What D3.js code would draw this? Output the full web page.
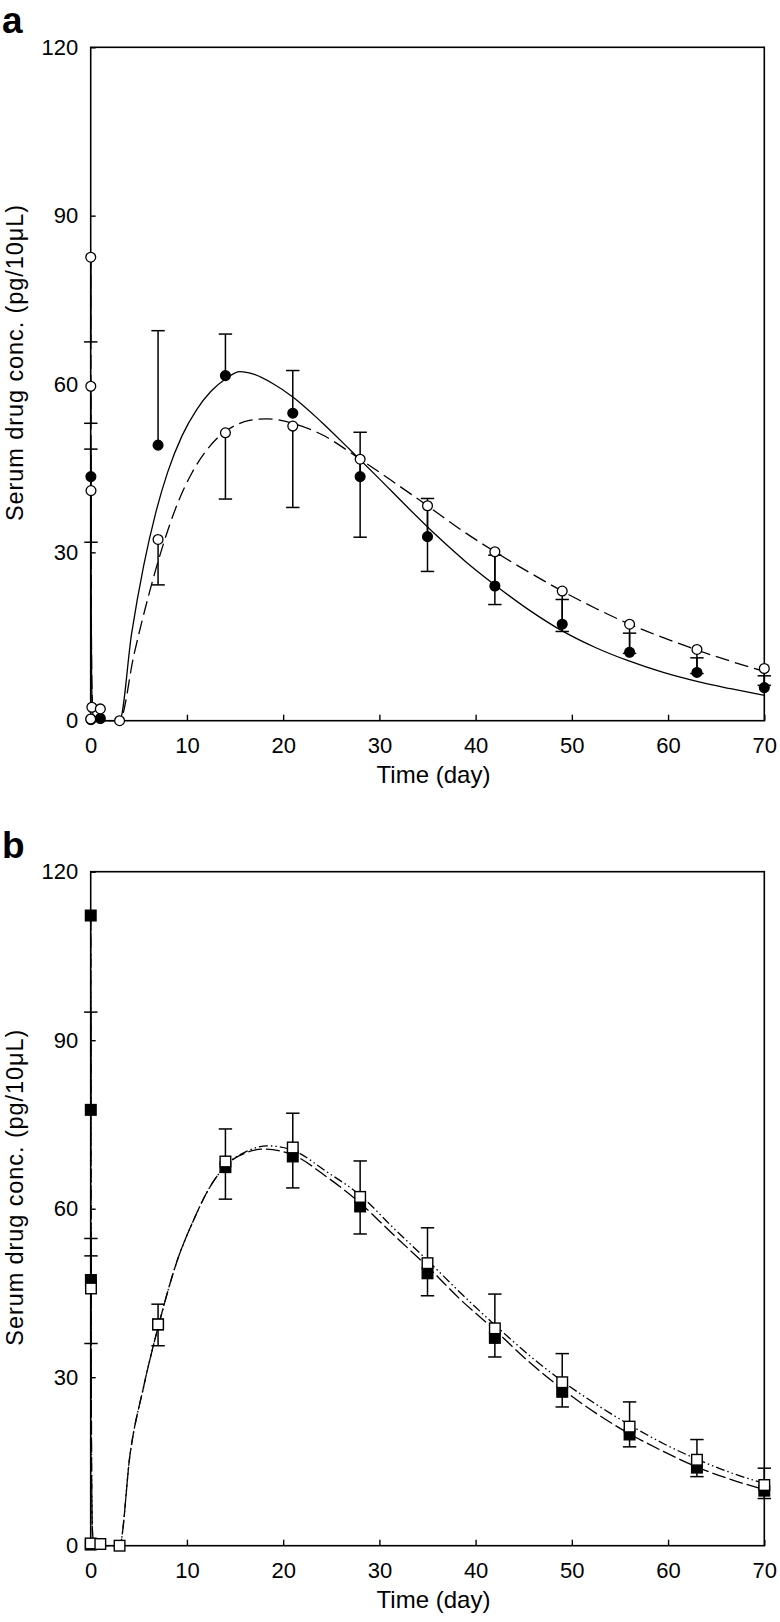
<!DOCTYPE html>
<html><head><meta charset="utf-8">
<script src="https://cdn.jsdelivr.net/npm/d3@7"></script>
<style>
html,body{margin:0;padding:0;background:#fff;}
svg{display:block;font-family:"Liberation Sans",Arial,Helvetica,sans-serif;}
</style></head>
<body>
<svg id="chart" width="780" height="1622"></svg>
<script>
// ---------- shared ticks ----------
const xTicks = [0, 10, 20, 30, 40, 50, 60, 70];
const yTicks = [0, 30, 60, 90, 120];
const xTitle = "Time (day)";
const yTitle = "Serum drug conc. (pg/10\u03BCL)";

// ---------- panel a : points ----------
const aFilledTime  = [0.02, 0.03, 1, 7, 14, 21, 28, 35, 42, 49, 56, 63, 70];
const aFilledConc  = [43.5, 0.2, 0.4, 49.1, 61.5, 54.8, 43.5, 32.8, 24.0, 17.2, 12.2, 8.6, 5.9];
const aFilledUpper = [48.4, null, null, 69.5, 68.9, 62.4, 51.4, 39.6, 29.5, 21.6, 15.6, 11.2, 8.0];

const aOpenTime  = [0.004, 0.01, 0.03, 0.12, 0, 1, 3, 7, 14, 21, 28, 35, 42, 49, 56, 63, 70];
const aOpenConc  = [82.6, 59.6, 41.0, 2.4, 0.3, 2.1, 0, 32.3, 51.3, 52.5, 46.6, 38.3, 30.1, 23.1, 17.2, 12.7, 9.3];
const aOpenLower = [67.5, 53.0, 31.8, null, null, null, null, 24.2, 39.5, 38.0, 32.7, 26.6, 20.7, 15.9, 12.0, 8.4, 6.3];

// ---------- panel a : fitted curves ----------
const aSolidTime = [0, 0.05, 0.1, 0.2, 0.4, 3, 4.25, 5.5, 6.75, 8, 9.5, 11, 12.5, 14, 15.5, 17, 19, 21, 24, 27, 30, 33, 36, 39, 42, 45.5, 49, 52.5, 56, 59.5, 63, 66.5, 70];
const aSolidConc = [45, 20, 7, 1.5, 0, 0, 15.5, 27.6, 37.0, 44.3, 50.8, 55.4, 58.7, 60.9, 62.2, 61.7, 60.0, 57.7, 53.2, 48.2, 43.1, 37.9, 32.9, 28.3, 24.2, 19.8, 16.0, 13.0, 10.6, 8.6, 7.0, 5.7, 4.5];
const aDashTime  = [0, 0.05, 0.1, 0.2, 0.4, 3, 4.5, 6, 7.5, 9, 10.5, 12, 13.5, 15, 16.5, 18.3, 21, 24, 28, 31.5, 35, 38.5, 42, 45.5, 49, 52.5, 56, 59.5, 63, 66.5, 70];
const aDashConc  = [83, 30, 9, 2, 0, 0, 11.8, 22.2, 31.2, 38.6, 44.1, 48.1, 50.9, 52.6, 53.5, 53.8, 53.0, 51.0, 46.6, 42.5, 38.3, 34.0, 30.1, 26.5, 23.1, 20.0, 17.2, 14.8, 12.6, 10.6, 8.8];

// ---------- panel b : points ----------
const bFilledTime  = [0.004, 0.01, 0.02, 0.03, 0, 7, 14, 21, 28, 35, 42, 49, 56, 63, 70];
const bFilledConc  = [112.2, 77.6, 47.3, 46.5, 0.2, 39.4, 67.4, 69.3, 60.4, 48.5, 37.0, 27.4, 19.8, 13.9, 9.8];
const bFilledUpper = [null, 95.0, 54.7, 51.6, null, 43.0, 74.2, 77.0, 68.5, 56.6, 44.8, 34.2, 25.6, 18.9, 13.8];

const bOpenTime  = [0.03, 0.005, 1, 3, 7, 14, 21, 28, 35, 42, 49, 56, 63, 70];
const bOpenConc  = [45.8, 0.4, 0.3, 0, 39.4, 68.4, 70.9, 62.1, 50.3, 38.7, 29.1, 21.2, 15.3, 10.8];
const bOpenLower = [36.0, null, null, null, 35.6, 61.7, 63.7, 55.5, 44.5, 33.6, 24.7, 17.6, 12.3, 8.4];

// ---------- panel b : fitted curves ----------
const bLowerTime = [0, 0.05, 0.1, 0.2, 0.4, 3, 4.1, 5.5, 7.2, 8.9, 10.7, 12.4, 14.1, 16.2, 18, 21, 24.5, 28, 31.5, 35, 38.5, 42, 45.5, 49, 52.5, 56, 59.5, 63, 66.5, 70];
const bLowerConc = [112, 40, 12, 2, 0, 0, 16.4, 28.3, 40.2, 50.3, 58.0, 63.9, 67.8, 70.0, 70.6, 69.6, 65.7, 61.0, 55.3, 49.7, 43.7, 38.4, 32.8, 27.9, 23.6, 19.9, 16.8, 14.0, 11.8, 10.0];
const bUpperTime = [0, 0.05, 0.1, 0.2, 0.4, 3, 4.1, 5.5, 7.2, 8.9, 10.7, 12.4, 14.1, 16.2, 18.3, 21, 24.5, 28, 31.5, 35, 38.5, 42, 45.5, 49, 52.5, 56, 59.5, 63, 66.5, 70];
const bUpperConc = [112, 40, 12, 2, 0, 0, 16.4, 28.3, 40.2, 50.3, 58.0, 63.9, 67.8, 70.2, 71.2, 70.4, 66.6, 62.4, 56.5, 50.8, 44.9, 39.3, 34.0, 29.3, 25.2, 21.5, 18.2, 15.4, 13.0, 11.1];

// ---------- drawing ----------
const svg = d3.select("#chart");
svg.append("rect").attr("width", 780).attr("height", 1622).attr("fill", "#fff");

const X0 = 90.7, X1 = 764.3;
const CAP = 6.7;
const zip = (t, v, e) => t.map((d, i) => ({t: d, v: v[i], e: e ? e[i] : null}));

function panel(opt) {
  const x = d3.scaleLinear().domain([0, 70]).range([X0, X1]);
  const y = d3.scaleLinear().domain([0, 120]).range([opt.bottom, opt.top]);
  const g = svg.append("g");

  // panel letter
  g.append("text").attr("x", 2).attr("y", opt.top - 14)
    .attr("font-size", 37).attr("font-weight", "bold").text(opt.letter);

  // axes
  const xa = g.append("g").attr("transform", `translate(0,${opt.bottom})`)
    .call(d3.axisBottom(x).tickValues(xTicks).tickSizeInner(-6).tickSizeOuter(0).tickPadding(16.4));
  const ya = g.append("g").attr("transform", `translate(${X0},0)`)
    .call(d3.axisLeft(y).tickValues(yTicks).tickSizeInner(-5).tickSizeOuter(0).tickPadding(12.4));
  [xa, ya].forEach(a => {
    a.select(".domain").remove();
    a.selectAll("line").attr("stroke", "#000").attr("stroke-width", 1.4);
    a.selectAll("text").attr("font-size", 22).attr("fill", "#000")
      .attr("font-family", "'Liberation Sans',Arial,sans-serif");
  });
  // frame
  g.append("rect").attr("x", X0).attr("y", opt.top).attr("width", X1 - X0)
    .attr("height", opt.bottom - opt.top).attr("fill", "none")
    .attr("stroke", "#000").attr("stroke-width", 1.6);

  // titles
  g.append("text").attr("x", (X0 + X1) / 2 + 6).attr("y", opt.bottom + 62)
    .attr("text-anchor", "middle").attr("font-size", 24).text(xTitle);
  g.append("text").attr("transform", `translate(23,${(opt.top + opt.bottom) / 2 - 21}) rotate(-90)`)
    .attr("text-anchor", "middle").attr("font-size", 23.5)
    .attr("textLength", 316).attr("lengthAdjust", "spacing").text(yTitle);

  // curves
  const line = d3.line().x(d => x(d.t)).y(d => y(d.v)).curve(d3.curveMonotoneX);
  opt.curves.forEach(c => {
    g.append("path").datum(zip(c.t, c.v)).attr("d", line)
      .attr("fill", "none").attr("stroke", "#000").attr("stroke-width", 1.3)
      .attr("stroke-dasharray", c.dash);
  });

  // error bars
  opt.series.forEach(s => {
    const pts = zip(s.t, s.v, s.e).filter(d => d.e !== null);
    const eg = g.append("g").attr("stroke", "#000").attr("stroke-width", 1.5);
    eg.selectAll("line.v").data(pts).join("line")
      .attr("x1", d => x(d.t)).attr("x2", d => x(d.t))
      .attr("y1", d => y(d.v)).attr("y2", d => y(d.e));
    eg.selectAll("line.c").data(pts).join("line")
      .attr("x1", d => x(d.t) - CAP).attr("x2", d => x(d.t) + CAP)
      .attr("y1", d => y(d.e)).attr("y2", d => y(d.e));
  });

  // markers
  opt.series.forEach(s => {
    const pts = zip(s.t, s.v);
    const mg = g.append("g");
    if (s.shape === "circle") {
      mg.selectAll("circle").data(pts).join("circle")
        .attr("cx", d => x(d.t)).attr("cy", d => y(d.v)).attr("r", 4.9)
        .attr("fill", s.filled ? "#000" : "#fff").attr("stroke", "#000").attr("stroke-width", 1.3);
    } else {
      mg.selectAll("rect").data(pts).join("rect")
        .attr("x", d => x(d.t) - 5.3).attr("y", d => y(d.v) - 5.3)
        .attr("width", 10.6).attr("height", 10.6)
        .attr("fill", s.filled ? "#000" : "#fff").attr("stroke", "#000").attr("stroke-width", 1.4);
    }
  });
}

panel({
  letter: "a", top: 47.3, bottom: 720.7,
  curves: [
    {t: aSolidTime, v: aSolidConc, dash: null},
    {t: aDashTime, v: aDashConc, dash: "14,6"}
  ],
  series: [
    {t: aFilledTime, v: aFilledConc, e: aFilledUpper, shape: "circle", filled: true},
    {t: aOpenTime, v: aOpenConc, e: aOpenLower, shape: "circle", filled: false}
  ]
});

panel({
  letter: "b", top: 871.7, bottom: 1545.7,
  curves: [
    {t: bLowerTime, v: bLowerConc, dash: "14,4"},
    {t: bUpperTime, v: bUpperConc, dash: "9,3,1.5,3,1.5,3"}
  ],
  series: [
    {t: bFilledTime, v: bFilledConc, e: bFilledUpper, shape: "square", filled: true},
    {t: bOpenTime, v: bOpenConc, e: bOpenLower, shape: "square", filled: false}
  ]
});
</script>
</body></html>
